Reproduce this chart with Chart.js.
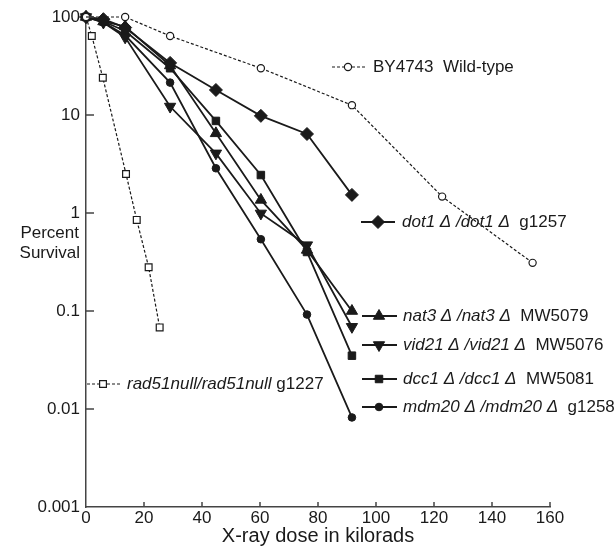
<!DOCTYPE html>
<html>
<head>
<meta charset="utf-8">
<script src="https://cdn.jsdelivr.net/npm/chart.js@4.4.1/dist/chart.umd.min.js"></script>
<style>
    html, body { margin: 0; padding: 0; background: #fff; }
    #wrap { width: 614px; height: 548px; }
</style>
</head>
<body>
<div id="wrap"><canvas id="my-chart"></canvas></div>
<script>
// * Percent survival after X-ray dose, one line per yeast strain

// doses (kilorads) for each group of strains
const doses = [0, 6, 13.5, 29, 44.8, 60.3, 76.2, 91.7]
const wildTypeDoses = [0, 13.5, 29, 60.3, 91.7, 122.8, 154]
const rad51Doses = [0, 2, 5.8, 13.8, 17.5, 21.6, 25.4]

// percent survival
const wildType = [100, 100, 64, 30, 12.6, 1.47, 0.31]
const dot1 = [100, 95, 78, 34, 18, 9.8, 6.4, 1.53]
const nat3 = [100, 90, 80, 32, 6.5, 1.36, 0.42, 0.1]
const vid21 = [100, 88, 62, 12.2, 4.06, 0.99, 0.47, 0.069]
const dcc1 = [100, 90, 72, 30, 8.7, 2.44, 0.4, 0.035]
const mdm20 = [100, 88, 65, 21.4, 2.86, 0.54, 0.092, 0.0082]
const rad51 = [100, 64, 24, 2.5, 0.85, 0.28, 0.068]

const xTicks = [0, 20, 40, 60, 80, 100, 120, 140, 160]
const yTicks = [0.001, 0.01, 0.1, 1, 10, 100]

const ink = '#1a1a1a'
const axisColor = '#444'
const fontFamily = '"Liberation Sans", Arial, Helvetica, sans-serif'
Chart.defaults.font.family = fontFamily
Chart.defaults.color = ink

// zip x and y arrays into points
function toPoints(xs, ys) {
    return xs.map((x, i) => ({ x: x, y: ys[i] }))
}

function solidSet(label, xs, ys, style, radius, rotation) {
    return {
        label: label,
        data: toPoints(xs, ys),
        borderColor: ink,
        borderWidth: 1.8,
        pointStyle: style,
        pointRadius: radius,
        pointRotation: rotation || 0,
        pointBackgroundColor: ink,
        pointBorderColor: ink,
        pointBorderWidth: 1,
        clip: false
    }
}

function openSet(label, xs, ys, style, radius) {
    return {
        label: label,
        data: toPoints(xs, ys),
        borderColor: ink,
        borderWidth: 1.2,
        borderDash: [3, 2],
        pointStyle: style,
        pointRadius: radius,
        pointBackgroundColor: '#fff',
        pointBorderColor: ink,
        pointBorderWidth: 1.2,
        clip: false
    }
}

const datasets = [
    openSet('wild-type', wildTypeDoses, wildType, 'circle', 3.6),
    solidSet('dot1', doses, dot1, 'rectRot', 6.5),
    solidSet('nat3', doses, nat3, 'triangle', 6.5),
    solidSet('vid21', doses, vid21, 'triangle', 6.5, 180),
    solidSet('dcc1', doses, dcc1, 'rect', 5.3),
    solidSet('mdm20', doses, mdm20, 'circle', 3.8),
    openSet('rad51', rad51Doses, rad51, 'rect', 4.8)
]

// legend rows drawn inside the plot: dataset index, line ends, marker, text start, text pieces
const legendRows = [
    { ds: 0, x0: 332, x1: 367, mx: 348, y: 67, tx: 373, parts: [['BY4743  Wild-type', false]] },
    { ds: 1, x0: 361, x1: 395, mx: 378, y: 222, tx: 402, parts: [['dot1 Δ /dot1 Δ', true], ['  g1257', false]] },
    { ds: 2, x0: 362, x1: 397, mx: 379, y: 316, tx: 403, parts: [['nat3 Δ /nat3 Δ', true], ['  MW5079', false]] },
    { ds: 3, x0: 362, x1: 397, mx: 379, y: 345, tx: 403, parts: [['vid21 Δ /vid21 Δ', true], ['  MW5076', false]] },
    { ds: 4, x0: 362, x1: 397, mx: 379, y: 379, tx: 403, parts: [['dcc1 Δ /dcc1 Δ', true], ['  MW5081', false]] },
    { ds: 5, x0: 362, x1: 397, mx: 379, y: 407, tx: 403, parts: [['mdm20 Δ /mdm20 Δ', true], ['  g1258', false]] },
    { ds: 6, x0: 87, x1: 120, mx: 103, y: 384, tx: 127, parts: [['rad51null/rad51null', true], [' g1227', false]] }
]

// inside tick marks, y title and the in-plot legend
const extras = {
    id: 'extras',
    afterDraw(chart) {
        const ctx = chart.ctx
        const xs = chart.scales.x
        const ys = chart.scales.y
        const area = chart.chartArea
        ctx.save()
        ctx.strokeStyle = axisColor
        ctx.lineWidth = 1.5
        ctx.beginPath()
        xTicks.slice(1).forEach((v) => {
            const px = xs.getPixelForValue(v)
            ctx.moveTo(px, area.bottom)
            ctx.lineTo(px, area.bottom - 5)
        })
        yTicks.slice(1).forEach((v) => {
            const py = ys.getPixelForValue(v)
            ctx.moveTo(area.left, py)
            ctx.lineTo(area.left + 8, py)
        })
        ctx.stroke()

        // y title, two horizontal lines
        ctx.fillStyle = ink
        ctx.font = '17px ' + fontFamily
        ctx.textAlign = 'right'
        ctx.textBaseline = 'middle'
        ctx.fillText('Percent', 79, 233)
        ctx.fillText('Survival', 80, 253)

        // legend
        ctx.textAlign = 'left'
        legendRows.forEach((row) => {
            const ds = chart.data.datasets[row.ds]
            ctx.strokeStyle = ink
            ctx.lineWidth = ds.borderWidth
            ctx.setLineDash(ds.borderDash || [])
            ctx.beginPath()
            ctx.moveTo(row.x0, row.y)
            ctx.lineTo(row.x1, row.y)
            ctx.stroke()
            ctx.setLineDash([])
            ctx.fillStyle = ds.pointBackgroundColor
            ctx.lineWidth = ds.pointBorderWidth
            Chart.helpers.drawPoint(ctx, {
                pointStyle: ds.pointStyle,
                radius: ds.pointRadius,
                rotation: ds.pointRotation || 0,
                borderWidth: ds.pointBorderWidth
            }, row.mx, row.y)
            let x = row.tx
            ctx.fillStyle = ink
            row.parts.forEach(([text, italic]) => {
                ctx.font = (italic ? 'italic ' : '') + '17px ' + fontFamily
                ctx.fillText(text, x, row.y)
                x += ctx.measureText(text).width
            })
        })
        ctx.restore()
    }
}

new Chart(document.getElementById('my-chart'), {
    type: 'line',
    data: { datasets: datasets },
    options: {
        responsive: true,
        maintainAspectRatio: false,
        animation: false,
        devicePixelRatio: 1,
        layout: { padding: { left: 0, right: 64, top: 17, bottom: 0 } },
        plugins: {
            legend: { display: false },
            tooltip: { enabled: false }
        },
        scales: {
            x: {
                type: 'linear',
                min: 0,
                max: 160,
                afterBuildTicks: (scale) => {
                    scale.ticks = xTicks.map((v) => ({ value: v }))
                },
                afterFit: (scale) => {
                    scale.height = 41
                },
                grid: { display: false, drawTicks: false },
                border: { display: true, color: axisColor, width: 1.5 },
                ticks: { font: { size: 17 }, color: ink, padding: 1, maxRotation: 0 },
                title: {
                    display: true,
                    text: 'X-ray dose in kilorads',
                    font: { size: 20 },
                    color: ink,
                    padding: 0
                }
            },
            y: {
                type: 'logarithmic',
                min: 0.001,
                max: 100,
                afterBuildTicks: (scale) => {
                    scale.ticks = yTicks.map((v) => ({ value: v }))
                },
                afterFit: (scale) => {
                    scale.width = 86
                },
                grid: { display: false, drawTicks: false },
                border: { display: true, color: axisColor, width: 1.5 },
                ticks: {
                    font: { size: 17 },
                    color: ink,
                    padding: 6,
                    callback: (v) => String(v)
                }
            }
        }
    },
    plugins: [extras]
})
</script>
</body>
</html>
